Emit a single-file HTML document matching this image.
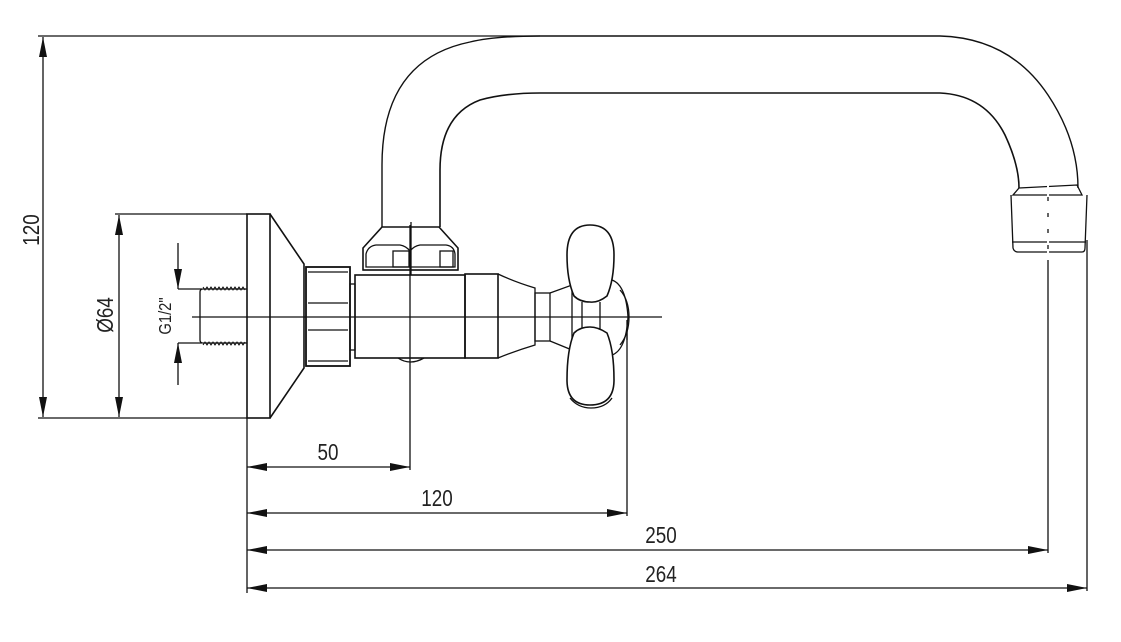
<!DOCTYPE html>
<html><head><meta charset="utf-8"><style>
html,body{margin:0;padding:0;background:#fff;}
svg{display:block;}
text{font-family:"Liberation Sans Narrow","Liberation Sans",sans-serif;font-size:23px;fill:#222;}
</style></head><body>
<svg width="1121" height="642" viewBox="0 0 1121 642" xmlns="http://www.w3.org/2000/svg">
<defs>
<marker id="a" viewBox="0 0 20 8" refX="20" refY="4" markerWidth="20" markerHeight="8" markerUnits="userSpaceOnUse" orient="auto-start-reverse"><path d="M0,0 L20,4 L0,8 z" fill="#111"/></marker>
</defs>
<g stroke="#111" stroke-width="1.3" fill="none">
<line x1="38" y1="36" x2="540" y2="36"/>
<line x1="38" y1="418" x2="247" y2="418"/>
<line x1="115" y1="214" x2="247" y2="214"/>
<line x1="178" y1="289" x2="202" y2="289"/>
<line x1="178" y1="343" x2="202" y2="343"/>
<line x1="247" y1="418" x2="247" y2="593"/>
<line x1="410" y1="225" x2="410" y2="470"/>
<line x1="627" y1="330" x2="627" y2="516"/>
<line x1="1048" y1="185" x2="1048" y2="553"/>
<line x1="1087" y1="240" x2="1087" y2="591"/>
<line x1="43" y1="37" x2="43" y2="417" marker-start="url(#a)" marker-end="url(#a)"/>
<line x1="119" y1="215" x2="119" y2="417" marker-start="url(#a)" marker-end="url(#a)"/>
<line x1="178" y1="243" x2="178" y2="289" marker-end="url(#a)"/>
<line x1="178" y1="385" x2="178" y2="343" marker-end="url(#a)"/>
<line x1="247" y1="467" x2="410" y2="467" marker-start="url(#a)" marker-end="url(#a)"/>
<line x1="247" y1="513" x2="627" y2="513" marker-start="url(#a)" marker-end="url(#a)"/>
<line x1="247" y1="550" x2="1048" y2="550" marker-start="url(#a)" marker-end="url(#a)"/>
<line x1="247" y1="588" x2="1087" y2="588" marker-start="url(#a)" marker-end="url(#a)"/>
<line x1="192" y1="317" x2="662" y2="317"/>
<path d="M247,289 L203,289 Q200,289 200,292 L200,340 Q200,343 203,343 L247,343"/>
<path d="M203,287 l2,3 l2,-3 l2,3 l2,-3 l2,3 l2,-3 l2,3 l2,-3 l2,3 l2,-3 l2,3 l2,-3 l2,3 l2,-3 l2,3 l2,-3 l2,3 l2,-3 l2,3 l2,-3 l2,3" stroke-width="1"/>
<path d="M203,345 l2,-3 l2,3 l2,-3 l2,3 l2,-3 l2,3 l2,-3 l2,3 l2,-3 l2,3 l2,-3 l2,3 l2,-3 l2,3 l2,-3 l2,3 l2,-3 l2,3 l2,-3 l2,3 l2,-3" stroke-width="1"/>
<rect x="247" y="214" width="23" height="204" stroke-width="1.6"/>
<path d="M270,214 L304,264 L304,368 L270,418" stroke-width="1.6"/>
<rect x="306" y="267" width="44" height="99" stroke-width="1.8"/>
<line x1="308" y1="272" x2="348" y2="272"/><line x1="308" y1="361" x2="348" y2="361"/>
<line x1="308" y1="303" x2="348" y2="303"/><line x1="308" y1="330" x2="348" y2="330"/>
<rect x="350" y="284" width="5" height="66"/>
<rect x="355" y="275" width="110" height="83" stroke-width="1.6"/>
<path d="M398,358 Q410,366 424,358"/>
<!-- top nut -->
<path d="M363,270 L363,248 L382,227 L439,227 L458,248 L458,270 Z" stroke-width="1.6"/>
<path d="M366,267 L366,254 Q368,246 376,245 L400,245 Q406,246 410,251 Q414,246 420,245 L446,245 Q454,246 455,254 L455,267 Z"/>
<rect x="393" y="251" width="16" height="16"/>
<rect x="440" y="251" width="13" height="16"/>
<line x1="363" y1="270" x2="458" y2="270"/>
<line x1="411" y1="222" x2="411" y2="275"/>
<!-- spout -->
<path d="M382,227 L382,165 Q382,60 470,42 Q495,36 540,36 L940,36 Q1010,38 1048,95 Q1078,140 1078,188" stroke-width="1.4"/>
<path d="M440,227 L440,170 Q440,115 480,100 Q505,93 540,93 L940,93 Q985,95 1005,135 Q1019,165 1019,188" stroke-width="1.6"/>
<path d="M1019,188 L1077,185 L1082,195 L1013,195 Z"/>
<path d="M1011,195 L1013,248 Q1014,252 1018,252 L1082,252 Q1085,252 1085,248 L1087,195"/>
<line x1="1012" y1="242" x2="1086" y2="242"/>
<rect x="465" y="274" width="33" height="84" stroke-width="1.6"/>
<path d="M498,274 Q515,282 535,288 L535,345 Q515,351 498,358"/>
<rect x="535" y="293" width="15" height="48"/>
<path d="M550,293 L572,285 L572,350 L550,341"/>
<path d="M572,280 L612,280 Q626,285 628,317 Q626,350 612,355 L572,355"/>
<path d="M620,290 Q629,300 629,317 Q629,334 620,345"/>
<line x1="600" y1="302" x2="600" y2="330"/><line x1="582" y1="302" x2="582" y2="330"/>
<path d="M574,296 Q567,280 567,255 Q567,225 590,225 Q614,225 614,255 Q614,280 607,296 Q598,303 590,302 Q580,302 574,296 Z" fill="#fff" stroke-width="1.6"/>
<path d="M574,333 Q567,350 567,380 Q567,405 590,405 Q614,405 614,380 Q614,350 607,333 Q598,327 590,327 Q580,327 574,333 Z" fill="#fff" stroke-width="1.6"/>
<path d="M570,398 Q578,408 591,408 Q605,408 612,398"/>
</g>
<line x1="1048" y1="185" x2="1048" y2="260" stroke="#fff" stroke-width="2" stroke-dasharray="12 4"/>
<line x1="627" y1="320" x2="627" y2="340" stroke="#111" stroke-width="1.3"/>
<g transform="translate(328,460) scale(0.82,1)"><text text-anchor="middle">50</text></g>
<g transform="translate(437,506) scale(0.82,1)"><text text-anchor="middle">120</text></g>
<g transform="translate(661,543) scale(0.82,1)"><text text-anchor="middle">250</text></g>
<g transform="translate(661,582) scale(0.82,1)"><text text-anchor="middle">264</text></g>
<g transform="translate(39,230) rotate(-90) scale(0.82,1)"><text text-anchor="middle">120</text></g>
<g transform="translate(113,315) rotate(-90) scale(0.82,1)"><text text-anchor="middle">Ø64</text></g>
<g transform="translate(171,316) rotate(-90) scale(0.82,1)"><text text-anchor="middle" style="font-size:18px">G1/2"</text></g>
</svg>
</body></html>
